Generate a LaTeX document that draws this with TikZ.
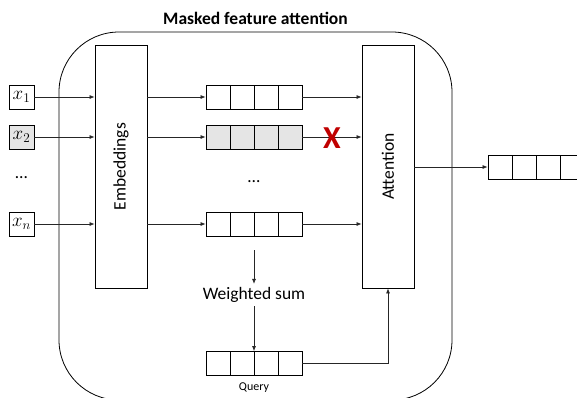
\RequirePackage{fix-cm}
\documentclass[tikz,border=0pt]{standalone}
\usepackage{fontspec}
\setmainfont{Carlito}
\usetikzlibrary{arrows.meta}
\definecolor{xred}{HTML}{C00000}

\begin{document}
\begin{tikzpicture}[x=1pt,y=-1pt,
    box/.style={draw,line width=0.8pt,minimum width=52pt,minimum height=243pt,inner sep=0pt},
    inp/.style={draw,line width=0.8pt,minimum width=25pt,minimum height=24pt,inner sep=0pt,
      font=\fontsize{19}{20}\selectfont},
    vec/.style={draw,line width=0.8pt,minimum width=96pt,minimum height=24pt,inner sep=0pt,
      path picture={\foreach \k in {-1,0,1}
        \draw[line width=0.8pt] ([xshift=\k*24pt]path picture bounding box.north)
          -- ([xshift=\k*24pt]path picture bounding box.south);}},
    masked/.style={fill=black!10},
    conn/.style={-{Latex[length=5pt,width=4pt]},line width=0.7pt,black!85},
    every node/.style={font=\fontsize{17.5}{20}\selectfont}]
  \path[use as bounding box,clip] (0,0) rectangle (577,397);
  % the masked attention block
  \draw[line width=0.8pt,rounded corners=60pt] (59,32) rectangle (452,400);
  \node[font=\fontsize{17.5}{20}\selectfont\bfseries] (title) at (255.5,18) {Masked feature attention};
  % inputs
  \node[inp]        (x1) at (21.5,97)  {$x_1$};
  \node[inp,masked] (x2) at (21.5,137) {$x_2$};
  \node             (xdots) at (21.5,178) {\ldots};
  \node[inp]        (xn) at (21.5,224) {$x_n$};
  % embeddings and attention
  \node[box] (emb) at (121,166.5) {\rotatebox{90}{Embeddings}};
  \node[box] (att) at (388,166.5) {\rotatebox{90}{Attention}};
  % embedded features
  \node[vec]        (v1) at (254,97)  {};
  \node[vec,masked] (v2) at (254,137) {};
  \node             (vdots) at (254,182) {\ldots};
  \node[vec]        (vn) at (254,224) {};
  \foreach \i in {1,2,n}{
    \draw[conn] (x\i) -- (x\i -| emb.west);
    \draw[conn] (v\i -| emb.east) -- (v\i);
    \draw[conn] (v\i) -- (v\i -| att.west);
  }
  \node[text=xred,font=\fontsize{32}{32}\selectfont\bfseries] (cross) at (332,138) {X};
  % query from the weighted sum
  \coordinate (sumtop) at (254,250);
  \node (wsum) at (254,295) {Weighted sum};
  \node[vec] (q) at (254,363.5) {};
  \node[font=\fontsize{12}{14}\selectfont] (qlabel) at (254,388) {Query};
  \draw[conn] (sumtop) -- (wsum);
  \draw[conn] (wsum) -- (q);
  \draw[conn] (q) -| (att);
  % output
  \node[vec] (out) at (536,167) {};
  \draw[conn] (att.east |- out) -- (out);
\end{tikzpicture}
\end{document}
